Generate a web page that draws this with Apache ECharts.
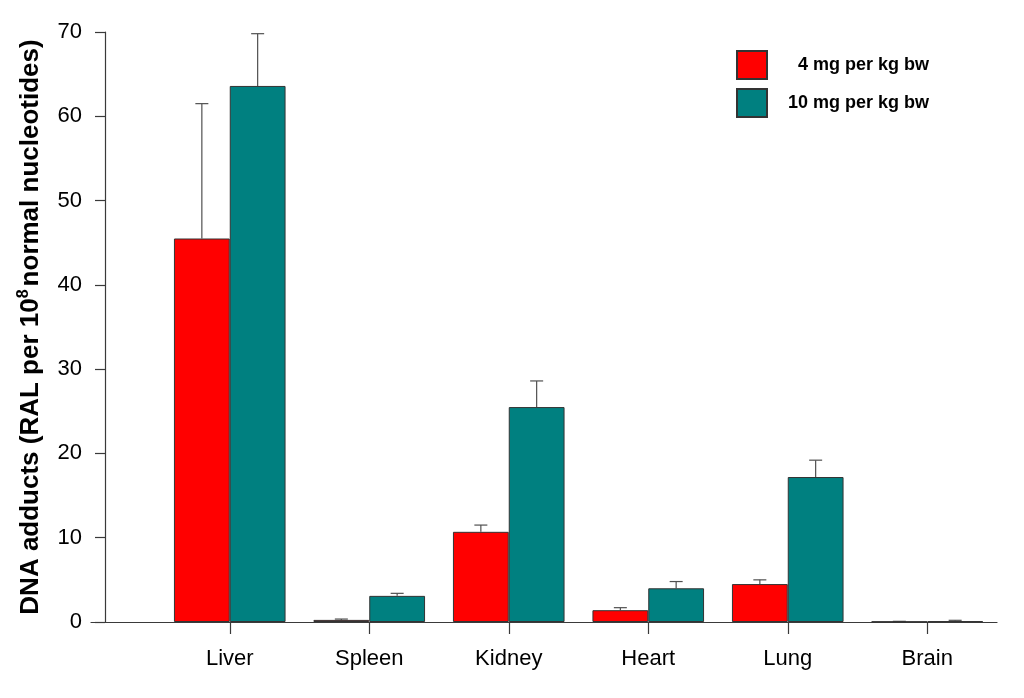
<!DOCTYPE html>
<html>
<head>
<meta charset="utf-8">
<script src="https://cdn.jsdelivr.net/npm/echarts@6/dist/echarts.min.js"></script>
<style>html,body{margin:0;padding:0;background:#fff}#c{width:1024px;height:698px}</style>
</head>
<body>
<div id="c"></div>
<script>
const categories = ['Liver', 'Spleen', 'Kidney', 'Heart', 'Lung', 'Brain'];
const seriesNames = ['4 mg per kg bw', '10 mg per kg bw'];
const low = [45.5, 0.25, 10.7, 1.4, 4.5, 0.05];
const lowErrTop = [61.5, 0.35, 11.5, 1.7, 5.0, 0.08];
const high = [63.6, 3.1, 25.5, 4.0, 17.2, 0.1];
const highErrTop = [69.8, 3.4, 28.6, 4.8, 19.2, 0.2];
const yMin = 0, yMax = 70, yStep = 10;

const chart = echarts.init(document.getElementById('c'));
const font = 'Liberation Sans, Arial, sans-serif';
const axisColor = '#3a3a3a';

function errSeries(vals, tops, side) {
  return {
    type: 'custom',
    xAxisIndex: 0, yAxisIndex: 0,
    silent: true,
    z: 1,
    data: vals.map((v, i) => [i, v, tops[i]]),
    encode: { x: 0, y: [1, 2] },
    renderItem: function (params, api) {
      const idx = api.value(0);
      const base = api.coord([idx, api.value(1)]);
      const top = api.coord([idx, api.value(2)]);
      const band = api.size([1, 0])[0];
      const x = base[0] + side * band * 0.2;
      const cap = 6.5;
      return {
        type: 'group',
        children: [
          { type: 'line', shape: { x1: x, y1: base[1], x2: x, y2: top[1] }, style: { stroke: '#505050', lineWidth: 1.2 } },
          { type: 'line', shape: { x1: x - cap, y1: top[1], x2: x + cap, y2: top[1] }, style: { stroke: '#505050', lineWidth: 1.2 } }
        ]
      };
    }
  };
}

chart.setOption({
  animation: false,
  backgroundColor: '#fff',
  grid: [
    { left: 160, right: 27, top: 32, bottom: 76 },
    { left: 91, right: 27, top: 32, bottom: 76 }
  ],
  legend: {
    orient: 'vertical',
    left: 736, top: 50,
    padding: 0,
    itemWidth: 30, itemHeight: 28, itemGap: 8,
    icon: 'rect',
    textStyle: { fontFamily: font, fontWeight: 'bold', fontSize: 18, color: '#000' },
    data: [
      { name: seriesNames[0], textStyle: { padding: [0, 0, 0, 26] } },
      { name: seriesNames[1], textStyle: { padding: [0, 0, 0, 16] } }
    ]
  },
  xAxis: [
    {
      type: 'category', gridIndex: 0, data: categories,
      axisLine: { show: false },
      axisTick: { show: true, alignWithLabel: true, length: 12, lineStyle: { color: axisColor, width: 1.2 } },
      axisLabel: { fontFamily: font, fontSize: 22, color: '#000', margin: 26 },
      splitLine: { show: false }
    },
    {
      type: 'value', gridIndex: 1, min: 0, max: 1,
      axisLine: { show: true, onZero: false, lineStyle: { color: axisColor, width: 1.2 } },
      axisTick: { show: false }, axisLabel: { show: false }, splitLine: { show: false }
    }
  ],
  yAxis: [
    {
      type: 'value', gridIndex: 0, min: yMin, max: yMax, interval: yStep,
      show: false
    },
    {
      type: 'value', gridIndex: 1, min: yMin, max: yMax, interval: yStep,
      offset: -14,
      axisLine: { show: true, lineStyle: { color: axisColor, width: 1.2 } },
      axisTick: { show: true, length: 10, lineStyle: { color: axisColor, width: 1.2 } },
      axisLabel: { fontFamily: font, fontSize: 22, color: '#000', margin: 23 },
      splitLine: { show: false },
      name: '{t|DNA adducts (RAL per 10}{s|8}{t|normal nucleotides)}',
      nameLocation: 'middle',
      nameGap: 60,
      nameRotate: 90,
      nameTextStyle: {
        rich: {
          t: { fontFamily: font, fontWeight: 'bold', fontSize: 26, color: '#000' },
          s: { fontFamily: font, fontWeight: 'bold', fontSize: 16, color: '#000', padding: [0, 3, 13, 0] }
        }
      }
    }
  ],
  series: [
    {
      name: seriesNames[0], type: 'bar', xAxisIndex: 0, yAxisIndex: 0,
      data: low, barWidth: '40%', barGap: '0%', z: 2,
      itemStyle: { color: '#ff0000', borderColor: '#333', borderWidth: 1 }
    },
    {
      name: seriesNames[1], type: 'bar', xAxisIndex: 0, yAxisIndex: 0,
      data: high, barWidth: '40%', barGap: '0%', z: 2,
      itemStyle: { color: '#008080', borderColor: '#333', borderWidth: 1 }
    },
    errSeries(low, lowErrTop, -1),
    errSeries(high, highErrTop, 1)
  ]
});
</script>
</body>
</html>
